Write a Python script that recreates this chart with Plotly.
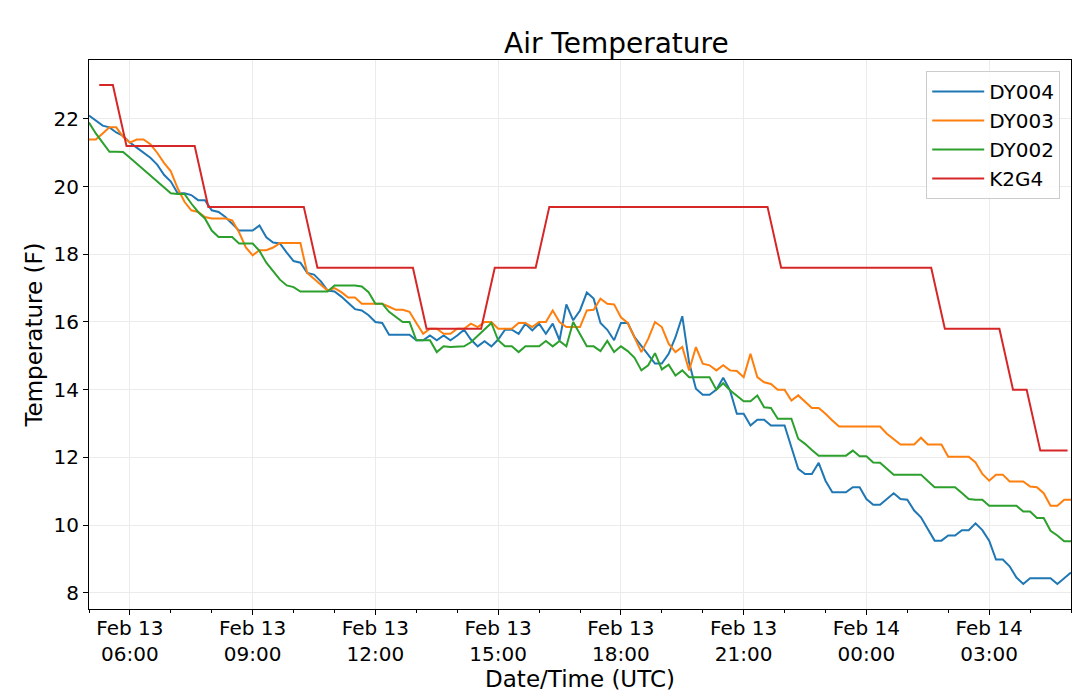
import pandas as pd
import plotly.graph_objects as go

# ---------------- data ----------------
dy_times = pd.date_range("2019-02-13 05:00", periods=145, freq="10min")

dy004 = [22.1, 21.95, 21.8, 21.75, 21.6, 21.5, 21.3, 21.15, 21.0, 20.85,
         20.65, 20.35, 20.15, 19.8, 19.8, 19.75, 19.6, 19.6, 19.3, 19.25,
         19.1, 18.9, 18.7, 18.7, 18.7, 18.85, 18.5, 18.35, 18.32, 18.05,
         17.8, 17.75, 17.45, 17.4, 17.2, 16.93, 16.9, 16.75, 16.55, 16.38,
         16.34, 16.2, 16.0, 15.97, 15.62, 15.62, 15.62, 15.62, 15.46, 15.46,
         15.6, 15.46, 15.6, 15.46, 15.6, 15.77, 15.48, 15.28, 15.43, 15.28,
         15.48, 15.77, 15.77, 15.65, 15.95, 15.75, 15.95, 15.65, 15.95, 15.46,
         16.52, 16.05, 16.34, 16.87, 16.69, 15.97, 15.77, 15.46, 15.97, 15.97,
         15.55, 15.3, 15.05, 14.77, 14.77, 15.06, 15.55, 16.17, 14.8, 14.03,
         13.85, 13.85, 14.0, 14.35, 13.98, 13.29, 13.29, 12.94, 13.11, 13.11,
         12.94, 12.94, 12.94, 12.3, 11.66, 11.51, 11.51, 11.84, 11.31, 10.97,
         10.97, 10.97, 11.12, 11.12, 10.77, 10.6, 10.6, 10.77, 10.94, 10.77,
         10.75, 10.43, 10.23, 9.88, 9.54, 9.54, 9.69, 9.69, 9.85, 9.85,
         10.05, 9.85, 9.54, 8.98, 8.98, 8.78, 8.45, 8.26, 8.43, 8.43,
         8.43, 8.43, 8.26, 8.43, 8.6]

dy003 = [21.39, 21.39, 21.57, 21.75, 21.75, 21.47, 21.3, 21.39, 21.39, 21.25,
         21.0, 20.7, 20.45, 19.95, 19.55, 19.3, 19.25, 19.1, 19.06, 19.06,
         19.06, 19.0, 18.65, 18.2, 17.97, 18.12, 18.12, 18.2, 18.33, 18.33,
         18.33, 18.33, 17.45, 17.28, 17.1, 16.93, 17.0, 16.88, 16.72, 16.72,
         16.54, 16.54, 16.54, 16.54, 16.45, 16.36, 16.36, 16.3, 15.97, 15.65,
         15.8, 15.8, 15.65, 15.65, 15.8, 15.8, 15.95, 15.85, 16.0, 16.0,
         15.8, 15.8, 15.8, 15.97, 15.97, 15.85, 16.0, 16.0, 16.34, 16.0,
         15.85, 15.85, 15.85, 16.34, 16.36, 16.69, 16.54, 16.52, 16.14, 15.97,
         15.55, 15.11, 15.5, 16.0, 15.85, 15.36, 15.11, 15.26, 14.57, 15.26,
         14.77, 14.72, 14.57, 14.72, 14.57, 14.55, 14.37, 15.06, 14.37, 14.22,
         14.17, 14.0, 14.0, 13.68, 13.83, 13.63, 13.46, 13.46, 13.29, 13.09,
         12.91, 12.91, 12.91, 12.91, 12.91, 12.91, 12.91, 12.7, 12.55, 12.38,
         12.38, 12.38, 12.58, 12.38, 12.38, 12.38, 12.02, 12.02, 12.02, 12.02,
         11.85, 11.51, 11.31, 11.49, 11.49, 11.29, 11.29, 11.29, 11.14, 11.12,
         10.94, 10.57, 10.57, 10.75, 10.75]

dy002 = [21.89, 21.57, 21.3, 21.03, 21.03, 21.02, 20.85, 20.67, 20.5, 20.32,
         20.15, 19.97, 19.8, 19.78, 19.78, 19.5, 19.25, 19.06, 18.7, 18.51,
         18.51, 18.51, 18.32, 18.32, 18.32, 18.1, 17.75, 17.5, 17.25, 17.08,
         17.03, 16.9, 16.9, 16.9, 16.9, 16.9, 17.08, 17.08, 17.08, 17.08,
         17.05, 16.88, 16.54, 16.54, 16.3, 16.15, 16.0, 16.0, 15.46, 15.46,
         15.46, 15.11, 15.28, 15.26, 15.26, 15.28, 15.4, 15.6, 15.8, 15.97,
         15.46, 15.28, 15.28, 15.11, 15.28, 15.28, 15.28, 15.44, 15.28, 15.44,
         15.28, 16.0, 15.65, 15.28, 15.28, 15.14, 15.44, 15.11, 15.28, 15.14,
         14.94, 14.57, 14.72, 15.08, 14.6, 14.74, 14.42, 14.57, 14.37, 14.37,
         14.37, 14.37, 14.0, 14.19, 13.98, 13.83, 13.66, 13.66, 13.83, 13.48,
         13.46, 13.14, 13.14, 13.14, 12.55, 12.4, 12.22, 12.05, 12.05, 12.05,
         12.05, 12.05, 12.2, 12.03, 12.03, 11.85, 11.84, 11.65, 11.49, 11.49,
         11.49, 11.49, 11.49, 11.3, 11.12, 11.12, 11.12, 11.12, 10.95, 10.77,
         10.75, 10.75, 10.57, 10.57, 10.57, 10.57, 10.57, 10.4, 10.4, 10.21,
         10.21, 9.83, 9.69, 9.52, 9.52]

k2g4_times = pd.date_range("2019-02-13 05:15", periods=72, freq="20min")
k2g4 = [23.0, 23.0,
        21.2, 21.2, 21.2, 21.2, 21.2, 21.2,
        19.4, 19.4, 19.4, 19.4, 19.4, 19.4, 19.4, 19.4,
        17.6, 17.6, 17.6, 17.6, 17.6, 17.6, 17.6, 17.6,
        15.8, 15.8, 15.8, 15.8, 15.8,
        17.6, 17.6, 17.6, 17.6,
        19.4, 19.4, 19.4, 19.4, 19.4, 19.4, 19.4, 19.4, 19.4, 19.4,
        19.4, 19.4, 19.4, 19.4, 19.4, 19.4, 19.4,
        17.6, 17.6, 17.6, 17.6, 17.6, 17.6, 17.6, 17.6, 17.6, 17.6, 17.6, 17.6,
        15.8, 15.8, 15.8, 15.8, 15.8,
        14.0, 14.0,
        12.2, 12.2, 12.2]

series_names = ["DY004", "DY003", "DY002", "K2G4"]
series_colors = ["#1f77b4", "#ff7f0e", "#2ca02c", "#d62728"]

x_tickvals = ["2019-02-13 06:00", "2019-02-13 09:00", "2019-02-13 12:00",
              "2019-02-13 15:00", "2019-02-13 18:00", "2019-02-13 21:00",
              "2019-02-14 00:00", "2019-02-14 03:00"]
x_ticktext = ["Feb 13<br>06:00", "Feb 13<br>09:00", "Feb 13<br>12:00",
              "Feb 13<br>15:00", "Feb 13<br>18:00", "Feb 13<br>21:00",
              "Feb 14<br>00:00", "Feb 14<br>03:00"]
y_tickvals = [8, 10, 12, 14, 16, 18, 20, 22]

# ---------------- figure ----------------
FONT = "DejaVu Sans"
fig = go.Figure()
xs = [dy_times, dy_times, dy_times, k2g4_times]
ys = [dy004, dy003, dy002, k2g4]
for name, color, x, y in zip(series_names, series_colors, xs, ys):
    fig.add_trace(go.Scatter(x=x, y=y, mode="lines", name=name, legendgroup=name,
                             line=dict(color=color, width=2)))

fig.update_layout(
    width=1080, height=698,
    margin=dict(l=89, r=9, t=60, b=89),
    paper_bgcolor="white", plot_bgcolor="white",
    font=dict(family=FONT, color="black"),
    title=dict(text="Air Temperature", x=580 / 1080, y=1 - 43 / 698,
               xanchor="center", yanchor="middle", xref="paper",
               font=dict(size=28, family=FONT, color="black")),
    legend=dict(x=0.989, y=0.98, xanchor="right", yanchor="top",
                bgcolor="rgba(255,255,255,0.8)", bordercolor="#cccccc", borderwidth=1,
                font=dict(size=20, family=FONT, color="black"), tracegroupgap=0,
                itemwidth=52),
    showlegend=True,
)

fig.update_xaxes(
    range=["2019-02-13 05:00", "2019-02-14 05:00"],
    tickmode="array", tickvals=x_tickvals, ticktext=x_ticktext,
    ticks="outside", ticklen=5, tickwidth=1, tickcolor="black",
    tickfont=dict(size=20, family=FONT, color="black"),
    ticklabelstandoff=-4,
    showline=True, linecolor="black", linewidth=1, mirror=True,
    showgrid=True, gridcolor="#ebebeb", gridwidth=1, zeroline=False,
    minor=dict(dtick=3600000, tick0="2019-02-13 05:00", ticks="outside",
               ticklen=3, tickcolor="black", showgrid=False),
    title=dict(text="Date/Time (UTC)", font=dict(size=23, family=FONT, color="black"),
               standoff=0),
    automargin=False,
)
fig.update_yaxes(
    range=[7.52, 23.74],
    tickmode="array", tickvals=y_tickvals,
    ticks="outside", ticklen=5, tickwidth=1, tickcolor="black",
    tickfont=dict(size=20, family=FONT, color="black"),
    showline=True, linecolor="black", linewidth=1, mirror=True,
    showgrid=True, gridcolor="#ebebeb", gridwidth=1, zeroline=False,
    title=dict(text="Temperature (F)", font=dict(size=23, family=FONT, color="black"),
               standoff=4),
    automargin=False,
)

fig.write_html("out.html", config={"displayModeBar": False},
               post_script="document.body.style.margin='0px';document.body.style.padding='0px';")
